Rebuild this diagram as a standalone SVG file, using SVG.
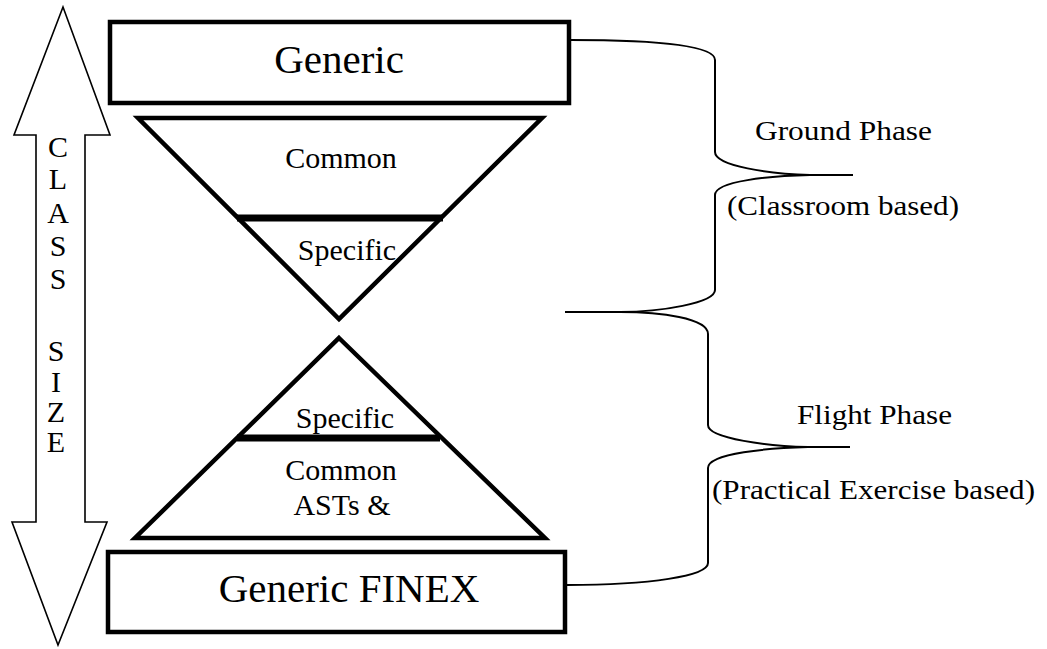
<svg xmlns="http://www.w3.org/2000/svg" width="1047" height="649" viewBox="0 0 1047 649">
<style>
text{font-family:"Liberation Serif","Times New Roman",serif;fill:#000}
.big{font-size:41px}
.mid{font-size:30px}
.lbl{font-size:28px}
.thick{fill:none;stroke:#000;stroke-width:4.5;stroke-linejoin:miter}
.bar{stroke:#000;stroke-width:7}
.brace{fill:none;stroke:#000;stroke-width:2}
</style>
<rect width="1047" height="649" fill="#fff"/>
<g id="class-size">
<polygon points="63,7 110,135 85,135 85,522 107,522 58,645 12,522 36,522 36,135 14,135" fill="#fff" stroke="#000" stroke-width="1.6"/>
<g class="mid" text-anchor="middle">
<text x="58" y="157">C</text>
<text x="58" y="189">L</text>
<text x="58" y="223">A</text>
<text x="58" y="256">S</text>
<text x="58" y="289">S</text>
<text x="56" y="361">S</text>
<text x="56" y="392">I</text>
<text x="56" y="422">Z</text>
<text x="56" y="452">E</text>
</g>
</g>
<g id="generic">
<rect x="110" y="22" width="459" height="81" class="thick"/>
<text x="339" y="73" class="big" text-anchor="middle">Generic</text>
</g>
<g id="top-triangle">
<polygon points="138,118 542,118 339,319" class="thick"/>
<line x1="237" y1="218" x2="443" y2="218" class="bar"/>
<text x="341" y="168" class="mid" text-anchor="middle">Common</text>
<text x="347" y="260" class="mid" text-anchor="middle">Specific</text>
</g>
<g id="bottom-triangle">
<polygon points="339,338 545,538 135,538" class="thick"/>
<line x1="237" y1="438" x2="440" y2="438" class="bar"/>
<text x="345" y="428" class="mid" text-anchor="middle">Specific</text>
<text x="341" y="480" class="mid" text-anchor="middle">Common</text>
<text x="342" y="515" class="mid" text-anchor="middle">ASTs &amp;</text>
</g>
<g id="generic-finex">
<rect x="108" y="552" width="457" height="80" class="thick"/>
<text x="349" y="602" class="big" text-anchor="middle">Generic FINEX</text>
</g>
<g id="connectors">
<path class="brace" d="M570,40 C660,40 715,46 715,60 L715,152 C715,166 770,174 810,175 L853,175 M810,175 C770,176 715,181 715,195 L715,290 C715,303 660,312 620,312 L565,312"/>
<path class="brace" d="M565,312 L620,312 C660,312 708,318 708,334 L708,425 C708,439 770,446 808,447 L850,447 M808,447 C770,448 708,453 708,468 L708,563 C708,576 650,585 567,585"/>
</g>
<g id="ground-phase">
<text x="755" y="140" class="lbl" textLength="177" lengthAdjust="spacingAndGlyphs">Ground Phase</text>
<text x="727" y="215" class="lbl" textLength="232" lengthAdjust="spacingAndGlyphs">(Classroom based)</text>
</g>
<g id="flight-phase">
<text x="797" y="424" class="lbl" textLength="155" lengthAdjust="spacingAndGlyphs">Flight Phase</text>
<text x="712" y="499" class="lbl" textLength="323" lengthAdjust="spacingAndGlyphs">(Practical Exercise based)</text>
</g>
</svg>
